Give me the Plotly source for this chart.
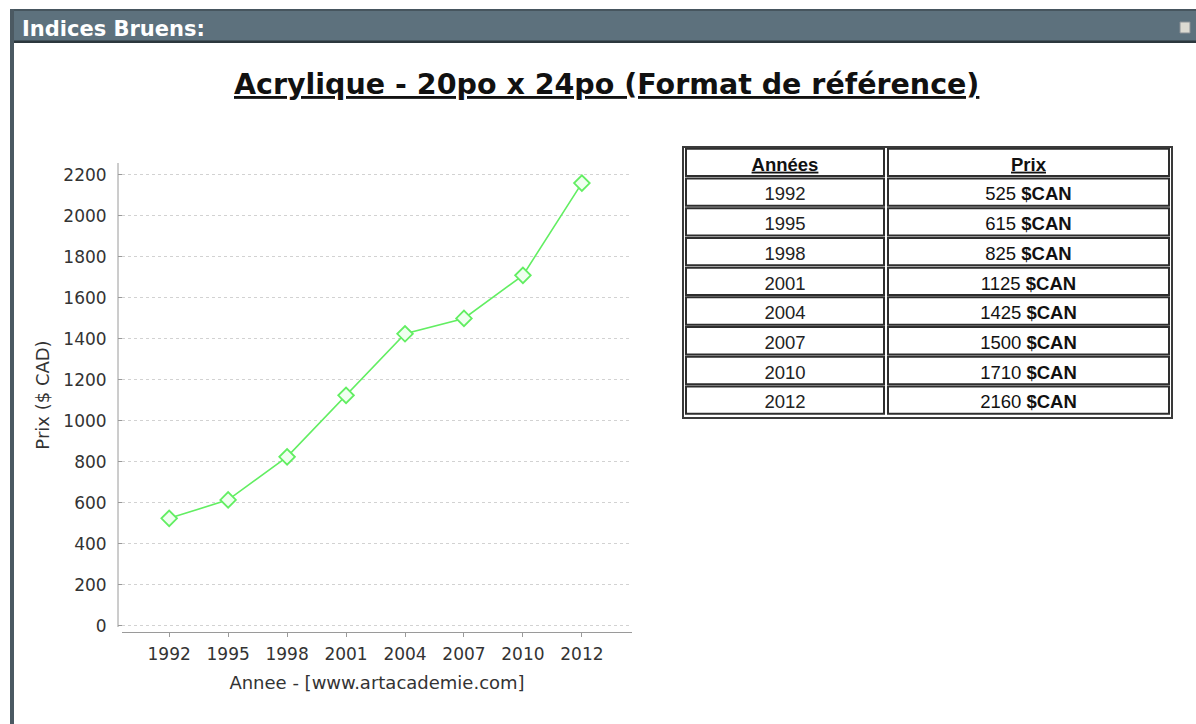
import plotly.graph_objects as go

# Price index data: Acrylique 20po x 24po
years = ["1992", "1995", "1998", "2001", "2004", "2007", "2010", "2012"]
prices = [525, 615, 825, 1125, 1425, 1500, 1710, 2160]
y_ticks = [0, 200, 400, 600, 800, 1000, 1200, 1400, 1600, 1800, 2000, 2200]
table_headers = ["Années", "Prix"]

W, H = 1196, 724


def px(x):
    return x / W


def py(y):
    return 1 - y / H


GREEN = "#62ee62"
AXIS = "#9a9a9a"
TXT = "#333333"

fig = go.Figure()

# line chart
fig.add_trace(go.Scatter(
    x=years, y=prices, mode="lines+markers",
    line=dict(color=GREEN, width=1.6),
    marker=dict(symbol="diamond", size=12, color="#f0fff0",
                line=dict(color=GREEN, width=1.8)),
    xaxis="x", yaxis="y", showlegend=False, hoverinfo="x+y",
))

# table: column geometry in table-local pixel units
TBL_W = 489
col_edges = [(3, 201), (205, 486)]
n_rows = len(years) + 1
TEXT_DY = 0.12  # baseline nudge of cell text, in row units

# cell frames
shapes = []
for r in range(n_rows):
    for (c0, c1) in col_edges:
        shapes.append(dict(
            type="rect", xref="x2", yref="y2",
            x0=c0, x1=c1, y0=r - 0.46, y1=r + 0.46,
            line=dict(color="#2e2e2e", width=2), fillcolor="white", layer="below",
        ))
# outer table frame
shapes.append(dict(type="rect", xref="x2 domain", yref="y2 domain",
                   x0=0, x1=1, y0=0, y1=1,
                   line=dict(color="#3a3a3a", width=2)))

col_centers = [(c0 + c1) / 2 for c0, c1 in col_edges]
TFONT = "Liberation Sans"
TSIZE = 18.5

fig.add_trace(go.Scatter(
    x=col_centers, y=[TEXT_DY, TEXT_DY], mode="text",
    text=[f"<b>{h}</b>" for h in table_headers],
    textfont=dict(family=TFONT, size=TSIZE, color="#111111",
                  lineposition="under"),
    xaxis="x2", yaxis="y2", showlegend=False, hoverinfo="skip",
))
rows_idx = [r + TEXT_DY for r in range(1, n_rows)]
fig.add_trace(go.Scatter(
    x=[col_centers[0]] * len(years), y=rows_idx, mode="text",
    text=years,
    textfont=dict(family=TFONT, size=TSIZE, color="#222222"),
    xaxis="x2", yaxis="y2", showlegend=False, hoverinfo="skip",
))
fig.add_trace(go.Scatter(
    x=[col_centers[1]] * len(prices), y=rows_idx, mode="text",
    text=[f"{p} <b>$CAN</b>" for p in prices],
    textfont=dict(family=TFONT, size=TSIZE, color="#111111"),
    xaxis="x2", yaxis="y2", showlegend=False, hoverinfo="skip",
))

# window frame: header bar, borders, icon
shapes += [
    dict(type="rect", xref="paper", yref="paper", x0=px(10), x1=px(1196),
         y0=py(42), y1=py(9), fillcolor="#5d717d", line=dict(width=0), layer="below"),
    dict(type="rect", xref="paper", yref="paper", x0=px(10), x1=px(1196),
         y0=py(11), y1=py(9), fillcolor="#46555e", line=dict(width=0)),
    dict(type="rect", xref="paper", yref="paper", x0=px(10), x1=px(1196),
         y0=py(43), y1=py(40.5), fillcolor="#2c373d", line=dict(width=0)),
    dict(type="rect", xref="paper", yref="paper", x0=px(10), x1=px(14),
         y0=0, y1=py(9), fillcolor="#4b5962", line=dict(width=0)),
    dict(type="rect", xref="paper", yref="paper", x0=px(1180), x1=px(1190),
         y0=py(33), y1=py(22), fillcolor="#dcdad2",
         line=dict(color="#8a9096", width=1)),
    # vertical value axis line
    dict(type="line", xref="paper", yref="paper", x0=px(118), x1=px(118),
         y0=py(627), y1=py(163), line=dict(color=AXIS, width=1)),
]

fig.update_layout(
    width=W, height=H,
    margin=dict(l=0, r=0, t=0, b=0, autoexpand=False),
    paper_bgcolor="white", plot_bgcolor="white",
    font=dict(family="DejaVu Sans", color=TXT),
    shapes=shapes,
    xaxis=dict(
        type="category", domain=[px(122), px(632)], range=[-0.8, 7.85],
        anchor="free", position=py(632), automargin=False,
        showline=True, linecolor=AXIS, linewidth=1,
        ticks="outside", ticklen=4, tickcolor=AXIS, ticklabelstandoff=3,
        showgrid=False, zeroline=False,
        tickfont=dict(size=17, color=TXT),
        title=dict(text="Annee - [www.artacademie.com]",
                   font=dict(size=18, color=TXT), standoff=12),
        fixedrange=True,
    ),
    yaxis=dict(
        domain=[py(627), py(163)], range=[-5, 2258],
        anchor="free", position=px(122), automargin=False,
        tickvals=y_ticks, showline=False,
        ticks="outside", ticklen=4, tickcolor=AXIS, ticklabelstandoff=8,
        showgrid=True, gridcolor="#d2d2d2", griddash="3px,3px", gridwidth=1,
        zeroline=False,
        tickfont=dict(size=17, color=TXT),
        title=dict(text="Prix ($ CAD)", font=dict(size=18, color=TXT), standoff=8),
        fixedrange=True,
    ),
    xaxis2=dict(domain=[px(683), px(1172)], range=[0, TBL_W], anchor="y2",
                visible=False, fixedrange=True, automargin=False),
    yaxis2=dict(domain=[py(418), py(147)], range=[n_rows - 0.5 + 0.1, -0.5 - 0.02],
                anchor="x2", visible=False, fixedrange=True, automargin=False),
    annotations=[
        dict(text="<b>Indices Bruens:</b>", xref="paper", yref="paper",
             x=px(20), y=py(29), xanchor="left", yanchor="middle", showarrow=False,
             font=dict(family="DejaVu Sans", size=21, color="white")),
        dict(text="<b>Acrylique - 20po x 24po (Format de référence)</b>",
             xref="paper", yref="paper", x=px(606), y=py(84),
             xanchor="center", yanchor="middle", showarrow=False,
             font=dict(family="DejaVu Sans", size=28.5, color="#111111",
                       lineposition="under")),
    ],
)

fig.write_html("out.html")
